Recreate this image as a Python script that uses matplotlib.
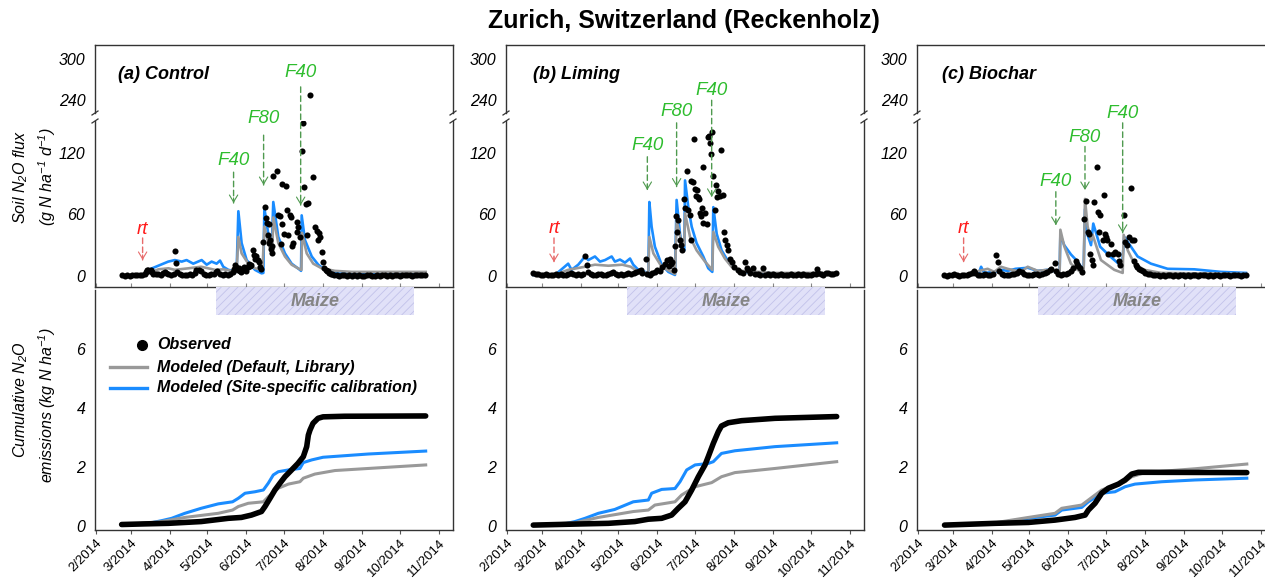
from datetime import datetime
import numpy as np
import matplotlib
matplotlib.use("Agg")
import matplotlib.pyplot as plt
import matplotlib.dates as mdates
from matplotlib.patches import Rectangle
from matplotlib.lines import Line2D

plt.rcParams['font.family'] = ['Liberation Sans', 'DejaVu Sans']
plt.rcParams['mathtext.fontset'] = 'custom'
plt.rcParams['mathtext.rm'] = 'Liberation Sans:italic'
plt.rcParams['mathtext.it'] = 'Liberation Sans:italic'
plt.rcParams['hatch.linewidth'] = 0.6

# ---- data: (day of year 2014, value) ----
# daily soil N2O flux, g N ha-1 d-1
obs_flux_a = [(53, 0.5), (55, 0.3), (57, 0.5), (59, 0.4), (61, 0.6), (63, 0.5), (65, 0.7), (67, 0.5), (69, 0.8),
              (71, 1.5), (72, 4), (73, 5.5), (74, 6), (75, 5), (76, 6), (77, 4), (78, 2), (80, 1.5), (82, 2), (84, 1),
              (86, 2.5), (87, 4), (88, 3), (90, 1.5), (92, 1), (94, 2), (95, 24), (96, 13), (97, 4), (99, 2), (101, 0.5),
              (103, 1), (105, 0.5), (107, 1.5), (109, 1), (111, 3), (112, 5.5), (114, 6), (116, 5), (118, 2), (120, 1),
              (122, 0.5), (124, 1.5), (126, 2), (128, 4), (129, 5), (131, 2), (133, 1), (135, 1.5), (137, 1), (139, 2),
              (141, 4), (142, 7), (143, 10.7), (144, 9), (145, 6), (146, 7.5), (147, 5), (148, 4), (149, 6), (150, 9),
              (151, 8), (152, 5), (153, 9), (154, 12), (155, 10), (156, 11), (157.5, 25), (158, 20), (159, 17),
              (160, 19), (161, 16), (162, 14), (163, 9), (164, 7), (165.5, 33), (166.8, 67), (167.6, 56), (168.6, 52),
              (169.4, 40), (169.9, 51), (170.2, 32), (170.7, 35), (171.3, 26), (172.1, 22), (172.5, 29), (173.4, 97),
              (176, 102), (177.4, 59), (178.7, 58), (179.2, 31), (180, 89.5), (180.5, 51), (182, 41), (183.5, 88),
              (184, 64), (185.4, 40), (186.7, 59), (187.2, 57), (188, 29), (189.3, 32), (192, 53), (192.5, 43),
              (193.3, 48), (194.6, 38), (196, 122), (197.3, 149), (197.8, 87), (199.4, 70), (200, 40), (201.3, 71),
              (202.6, 248), (205.3, 96.6), (206.6, 48), (207.9, 44), (209.3, 35), (210, 42), (210.5, 38), (212, 23.6),
              (213.2, 14), (214, 8), (215, 6), (216, 4.5), (217, 5), (218, 3), (219, 2), (220, 1.5), (222, 0.8),
              (224, 1.0), (226, 0.3), (228, 0.8), (230, 0.5), (232, 0.3), (234, 0.6), (236, 0.2), (238, 0.5),
              (240, 0.3), (242, 0.7), (244, 0.4), (246, 0.2), (248, 0.5), (250, 0.8), (252, 0.4), (254, 0.2),
              (256, 0.6), (258, 0.3), (260, 0.5), (262, 0.7), (264, 0.4), (266, 0.6), (268, 0.3), (270, 0.5),
              (272, 0.8), (274, 0.4), (276, 0.6), (278, 0.5), (280, 0.9), (282, 0.6), (284, 0.4), (286, 0.7),
              (288, 0.5), (290, 0.8), (292, 0.6), (294, 1.0)]

obs_flux_b = [(53, 2.6), (55, 2), (57, 1.5), (59, 1), (61, 1), (63, 1.5), (65, 1), (67, 0.5), (69, 1), (71, 1.5),
              (73, 1), (75, 2), (77, 1), (79, 0.5), (81, 2), (83, 3), (85, 1.5), (87, 1), (89, 2), (91, 1), (93, 2),
              (94.4, 19.5), (95.7, 11), (97, 4), (99, 2), (101, 1), (103, 0.5), (105, 1.5), (107, 2), (109, 1),
              (111, 0.5), (113, 1.5), (115, 3), (117, 4), (119, 2), (121, 1), (123, 1.5), (125, 0.5), (127, 1.5),
              (129, 3), (131, 2), (133, 3), (135, 4), (137, 5), (139, 6), (140, 3), (142.6, 17), (144, 2), (146, 1),
              (148, 2.5), (150, 4), (152, 6), (154, 5), (156, 9), (158, 12), (160, 15.5), (161, 10), (162, 17),
              (163, 12), (164, 14), (165, 6), (166, 29.5), (166.8, 58), (167.8, 43), (168.6, 54.5), (169.6, 35),
              (170.7, 30), (171.2, 25), (173.1, 74.6), (173.9, 66), (175.3, 102), (176.6, 64), (178, 59), (178.6, 35),
              (179, 92), (180.6, 91), (181.4, 133), (182, 85), (182.8, 78), (183.3, 84), (184.6, 77), (185.5, 75),
              (186, 61), (186.8, 58), (187.2, 66), (188, 52), (188.5, 106), (189.9, 61), (191.2, 51), (192.5, 135.5),
              (193, 136), (193.8, 129), (195, 119), (195.7, 140), (196.4, 97), (197.8, 64), (198.5, 89), (199.1, 77),
              (200.4, 83), (201.8, 78), (202.6, 122.6), (203.9, 79), (205.2, 43), (206, 35), (207.1, 30), (208.4, 25),
              (209.7, 17), (211, 14), (213.2, 9), (216.4, 6), (218, 4), (220, 3), (221.7, 14), (223, 7.5), (224.4, 6),
              (226, 3), (228.4, 7.5), (230, 2), (232, 1.5), (234, 1), (236.3, 8), (238, 1), (240, 2), (242, 1),
              (244, 1.5), (246, 0.5), (248, 1), (250, 2), (252, 1), (254, 0.5), (256, 1), (258, 2), (260, 1),
              (262, 0.5), (264, 1.5), (266, 1), (268, 2), (270, 1), (272, 0.5), (274, 1), (276, 2), (278, 1.5),
              (279, 6.5), (280, 3), (282, 2), (284, 1), (286, 2.5), (288, 3), (290, 2), (292, 1.5), (294, 2.5)]

obs_flux_c = [(53, 0.5), (55, 0.3), (57, 0.5), (59, 1), (61, 1.5), (63, 0.5), (65, 0.3), (67, 1), (69, 0.5),
              (71, 0.5), (73, 1.5), (75, 3), (77, 5), (78, 3), (80, 1), (82, 0.5), (84, 1), (86, 2), (88, 1), (90, 0.5),
              (92, 1.5), (94.5, 20), (95.7, 14), (97, 5), (99, 2), (101, 1), (103, 0.5), (105, 1), (107, 2), (109, 1.5),
              (111, 3), (113, 5), (115, 4), (117, 2), (119, 1), (121, 0.5), (123, 1), (125, 2), (127, 1.5), (129, 1),
              (131, 2), (133, 3), (135, 4), (137, 5.5), (138, 7), (141, 13), (142, 5), (144, 2), (146, 1), (148, 1.5),
              (150, 2), (152, 3), (154, 5), (156, 8), (157.7, 15), (159, 12), (160, 10), (161.3, 8), (163, 4),
              (164.7, 55), (166.2, 73), (167.3, 43), (168.1, 41), (169.4, 21), (170.8, 16), (171.8, 11), (172.6, 72),
              (174.5, 106), (175.3, 62), (176.6, 43), (177.4, 59), (179.3, 35), (180, 79), (181.4, 41), (181.9, 38),
              (182.7, 35), (183.2, 21), (185.9, 31), (187.2, 21), (189, 23), (191.1, 21), (192.5, 15), (193.3, 11),
              (196, 59), (197, 33), (198.4, 30), (200.5, 38), (201.8, 86), (202.3, 35), (203.9, 35), (204.5, 15),
              (205.8, 11), (207, 9), (208.4, 7), (210, 5.5), (211, 5), (213, 3), (215, 2), (217, 1.5), (219, 1),
              (221, 0.5), (223, 0.8), (225, 0.4), (227, 0.6), (229, 0.3), (231, 0.7), (233, 0.5), (235, 0.3),
              (237, 0.6), (239, 0.4), (241, 0.8), (243, 0.5), (245, 0.3), (247, 0.6), (249, 0.4), (251, 0.7),
              (253, 0.5), (255, 0.3), (257, 0.6), (259, 0.5), (261, 0.8), (263, 0.4), (265, 0.6), (267, 0.3),
              (269, 0.5), (271, 0.7), (273, 0.4), (275, 0.6), (277, 0.5), (279, 0.8), (281, 0.4), (283, 0.6),
              (285, 0.5), (287, 0.7), (289, 0.4), (291, 0.6), (293, 0.5)]

# modeled flux, default (library) parameters
default_flux_a = [(53, 0.5), (70, 0.5), (74, 2.6), (82, 6.5), (90, 7.5), (95, 6), (106, 7.5), (116, 9), (127, 6),
                  (133.6, 6.5), (140, 5), (144.2, 4), (145.6, 38), (148.2, 22), (153.5, 12), (158.8, 7.5), (164.8, 6),
                  (166.3, 48), (170.2, 28.5), (172.6, 25), (173.4, 57), (177.4, 32), (182.7, 19), (188, 11),
                  (194.6, 6.5), (195.8, 6), (196.3, 42), (200, 22), (205.2, 12), (211.9, 7.5), (222.5, 5),
                  (235.8, 4), (294.7, 4)]
default_flux_b = [(53.2, 1), (70.5, 1), (81, 6), (94.4, 9), (102.3, 11), (113, 10), (124, 11), (130.8, 9),
                  (136.8, 4), (144.8, 3), (145.6, 38), (148.8, 22), (155.4, 9), (166, 2), (167.3, 54), (170.7, 35),
                  (173.4, 30), (174, 61), (178, 38), (183.2, 25), (189.9, 14), (195.7, 6), (196.5, 43), (200.4, 28.5),
                  (205.7, 17), (211, 9), (219, 5), (245.6, 3), (294.7, 3)]
default_flux_c = [(53, 0.5), (69.1, 0.5), (81.1, 5), (87.7, 7), (93, 4), (98.3, 9), (103.6, 7), (114.2, 4),
                  (119.6, 9), (127.5, 5), (135.5, 6), (143.4, 4), (145, 3), (145.6, 45), (148.7, 29), (154, 12),
                  (159.4, 6), (164.1, 2), (165.2, 75), (167.3, 48), (170, 35), (171.3, 40), (177.9, 15.5),
                  (188.5, 6), (195.2, 3), (196, 40), (199.2, 25), (204.5, 12), (212.4, 6), (225.7, 3), (293.3, 2)]

# modeled flux, site-specific calibration
calib_flux_a = [(53, 0.5), (70, 0.5), (74, 6), (81.9, 10), (89.8, 14), (95.1, 15.5), (100.5, 14), (104.4, 15.5),
                (109.7, 12), (116.4, 15.5), (120.4, 11), (124.3, 14), (128.3, 12), (131, 15), (133.6, 9),
                (137.6, 6), (141.6, 5), (144.2, 4), (145.6, 63), (148.2, 32), (152.2, 15.5), (158.8, 6),
                (164.1, 2.6), (165.5, 3), (166.3, 66), (169.4, 41), (172, 22), (173.4, 72), (177.4, 38),
                (182.7, 22), (188, 12), (194.6, 6), (195.5, 5), (196, 59), (198.6, 35), (204, 19), (209.2, 11),
                (214.5, 6), (222.5, 3), (235.8, 2.6), (294.7, 2)]
calib_flux_b = [(53.2, 1), (70.5, 1), (81, 12), (83.7, 6), (89, 11), (94.4, 19), (97, 15.5), (102.3, 19),
                (106.3, 14), (110.3, 15.5), (115.6, 19), (118.2, 14), (122.2, 16), (126.2, 13), (130.2, 17),
                (132.8, 11), (136.8, 6), (142.1, 4), (144.8, 3), (145.6, 72), (147.4, 48), (150, 28.5), (155.4, 11),
                (160.7, 4), (166, 1), (167.3, 74), (170, 41), (171.8, 28.5), (173.4, 25), (174, 93), (176.6, 67),
                (179.3, 48), (183.2, 32), (188.5, 19), (192.5, 7.5), (195.7, 4), (196.5, 67), (199.2, 41),
                (203.1, 25), (208.4, 14), (213.7, 7.5), (219, 4), (245.6, 2.5), (294.7, 2)]
calib_flux_c = [(53, 0.5), (69.1, 0.5), (81.1, 4), (82.5, 9), (85, 3), (93, 4), (98.3, 6), (103.6, 5), (110, 7),
                (119.6, 8), (127.5, 5), (135.5, 6), (143.4, 4), (145, 3), (145.6, 40), (148.7, 30), (154, 21),
                (159.4, 14), (164.1, 5), (165.2, 65), (167.3, 40), (170, 30), (171.8, 51), (177.3, 28.5),
                (185.3, 19), (191.9, 12), (194.6, 9), (196.5, 38), (201.8, 28.5), (207.1, 19), (217.7, 12),
                (231, 7), (252.2, 6.5), (273.4, 4), (293.3, 3)]

# cumulative N2O emissions, kg N ha-1
cum_obs_a = [(52.7, 0.05), (70, 0.07), (90, 0.09), (116, 0.15), (137.6, 0.26), (148, 0.29), (156, 0.37),
             (164, 0.49), (166.8, 0.66), (170.8, 0.94), (174.7, 1.22), (178.7, 1.45), (182.7, 1.67), (188, 1.9),
             (193, 2.12), (197.3, 2.35), (200, 2.69), (201.3, 3.08), (202.6, 3.25), (205, 3.48), (209, 3.65),
             (213, 3.70), (230, 3.72), (294.7, 3.73)]
cum_default_a = [(52.7, 0.03), (84.5, 0.15), (103, 0.29), (129.6, 0.43), (141, 0.54), (145.6, 0.66), (153.5, 0.77),
                 (165.5, 0.82), (169.4, 0.99), (177.4, 1.28), (185.4, 1.42), (194.6, 1.5), (197.3, 1.62),
                 (206.5, 1.76), (222.5, 1.88), (249, 1.95), (294.7, 2.07)]
cum_calib_a = [(52.7, 0.03), (74, 0.09), (84.5, 0.18), (92.5, 0.26), (103, 0.43), (116, 0.6), (129.6, 0.75),
               (141, 0.82), (145.6, 0.94), (150.9, 1.11), (158.8, 1.16), (165.5, 1.22), (169.4, 1.45), (173.4, 1.73),
               (177.4, 1.84), (185.4, 1.9), (194.6, 1.95), (197.3, 2.15), (204, 2.24), (213, 2.33), (249, 2.44),
               (294.7, 2.54)]

cum_obs_b = [(53.2, 0.03), (91.7, 0.07), (113, 0.09), (134, 0.15), (144.8, 0.23), (155.4, 0.26), (163.3, 0.37),
             (168.6, 0.6), (174, 0.82), (179.3, 1.22), (184.6, 1.67), (189.9, 2.07), (192.5, 2.35), (196.5, 2.8),
             (200.5, 3.2), (203, 3.39), (208.4, 3.5), (219, 3.57), (245.6, 3.65), (294.7, 3.71)]
cum_default_b = [(53.2, 0.03), (86.4, 0.11), (105, 0.29), (132.8, 0.49), (144.8, 0.54), (150, 0.71), (166, 0.82),
                 (171.3, 1.05), (182, 1.33), (195.2, 1.47), (203, 1.67), (213.7, 1.81), (245.6, 1.95),
                 (294.7, 2.18)]
cum_calib_b = [(53.2, 0.03), (75.8, 0.05), (86.4, 0.15), (94.4, 0.26), (105, 0.43), (118, 0.56), (132.8, 0.82),
               (144.8, 0.88), (147.4, 1.11), (155.4, 1.24), (166, 1.27), (170, 1.5), (175.3, 1.9), (182, 2.07),
               (192.5, 2.12), (196.5, 2.18), (203, 2.46), (213.7, 2.55), (245.6, 2.69), (294.7, 2.82)]

cum_obs_c = [(53.4, 0.03), (93.6, 0.09), (120.2, 0.12), (141.4, 0.2), (157.3, 0.29), (165.3, 0.37), (167.9, 0.54),
             (173.2, 0.77), (178.5, 1.11), (183.8, 1.28), (191.8, 1.42), (197.1, 1.56), (202.4, 1.76),
             (207.7, 1.82), (215.7, 1.82), (294, 1.81)]
cum_default_c = [(53.4, 0.03), (93.6, 0.11), (120.2, 0.29), (141.4, 0.43), (146.7, 0.6), (162.6, 0.71),
                 (167.9, 0.88), (178.5, 1.22), (189.1, 1.39), (197.1, 1.5), (202.4, 1.67), (213, 1.81),
                 (252.8, 1.94), (294, 2.1)]
cum_calib_c = [(53.4, 0.03), (93.6, 0.09), (120.2, 0.26), (141.4, 0.37), (146.7, 0.54), (162.6, 0.63),
               (167.9, 0.82), (178.5, 1.11), (189.1, 1.16), (197.1, 1.33), (205, 1.42), (226.2, 1.5), (252.8, 1.56),
               (294, 1.62)]

# maize growing season (day of year)
maize_start, maize_end = 127.5, 285.5

month_labels = ['2/2014', '3/2014', '4/2014', '5/2014', '6/2014', '7/2014', '8/2014', '9/2014', '10/2014', '11/2014']
month_ticks = [mdates.date2num(datetime(2014, m, 1)) for m in range(2, 12)]

BLUE = '#1a8cff'
GRAY = '#999999'
GREEN = '#2ebd2e'
GREEN_ARROW = '#4f9a4f'
RED = '#ff1a1a'
SPINE = '#333333'

day0 = mdates.date2num(datetime(2014, 1, 1)) - 1


def xs(series):
    return day0 + np.array([p[0] for p in series], float)


def ys(series):
    return np.array([p[1] for p in series], float)


W, H = 1265, 581
fig = plt.figure(figsize=(W / 100, H / 100), dpi=100)


def box(left, top, width, height):
    return [left / W, 1 - (top + height) / H, width / W, height / H]


panels = [
    dict(left=95, title='(a) Control', tx=0.064, obs=obs_flux_a, default=default_flux_a, calib=calib_flux_a,
         cum=(cum_obs_a, cum_default_a, cum_calib_a),
         marks=[('rt', 69.4, 15.6, 37, 45), ('F40', 141.8, 71, 101, 112),
                ('F80', 165.7, 88.5, 137, 153), ('F40', 195.2, 69, 184, 198)]),
    dict(left=506, title='(b) Liming', tx=0.075, obs=obs_flux_b, default=default_flux_b, calib=calib_flux_b,
         cum=(cum_obs_b, cum_default_b, cum_calib_b),
         marks=[('rt', 69.7, 13.6, 37, 46), ('F40', 144, 83.7, 116, 127),
                ('F80', 167.3, 87, 149, 160), ('F40', 195.2, 77, 171, 180)]),
    dict(left=917, title='(c) Biochar', tx=0.07, obs=obs_flux_c, default=default_flux_c, calib=calib_flux_c,
         cum=(cum_obs_c, cum_default_c, cum_calib_c),
         marks=[('rt', 68.6, 13.6, 37, 46), ('F40', 142, 49.6, 82, 92),
                ('F80', 165.2, 83.7, 126, 135), ('F40', 195.2, 42, 149, 158)]),
]

PW = 358
xlim = (day0 + 31.5, day0 + 31.5 + PW / 1.2564)


def style_spines(ax, hide):
    for side, sp in ax.spines.items():
        sp.set_color(SPINE)
        sp.set_linewidth(1.0)
        if side in hide:
            sp.set_visible(False)


def mark(ax, label, doy, tip, top, text_y):
    x = day0 + doy
    if label == 'rt':
        tcol, acol = RED, '#e86a6a'
    else:
        tcol, acol = GREEN, GREEN_ARROW
    ax.annotate('', xy=(x, tip), xytext=(x, top), annotation_clip=False,
                arrowprops=dict(arrowstyle='-', linestyle=(0, (4, 2.5)), color=acol, lw=1.0,
                                shrinkA=0, shrinkB=0))
    ax.annotate('', xy=(x, tip), xytext=(x, tip + 5), annotation_clip=False,
                arrowprops=dict(arrowstyle='->,head_length=0.5,head_width=0.3', color=acol, lw=0.8,
                                shrinkA=0, shrinkB=0))
    ax.text(x, text_y, label, color=tcol, fontstyle='italic', fontsize=13.5,
            ha='center', va='center', clip_on=False)


for p in panels:
    L = p['left']
    ax_top = fig.add_axes(box(L, 45, PW, 68))
    ax_mid = fig.add_axes(box(L, 121, PW, 166))
    ax_cum = fig.add_axes(box(L, 290, PW, 240))
    for ax in (ax_top, ax_mid, ax_cum):
        ax.set_facecolor('none')
        ax.set_xlim(xlim)

    # flux panels (broken y axis)
    for ax in (ax_top, ax_mid):
        ax.plot(xs(p['calib']), ys(p['calib']), color=BLUE, lw=1.9, zorder=2)
        ax.plot(xs(p['default']), ys(p['default']), color=GRAY, lw=1.9, zorder=2.1)
        ax.plot(xs(p['obs']), ys(p['obs']), 'o', color='black', ms=4.4, mew=0, zorder=3)

    ax_top.set_ylim(221, 320.5)
    ax_top.set_yticks([240, 300], ['240', '300'], fontstyle='italic', fontsize=11.5)
    ax_top.set_xticks([])
    style_spines(ax_top, ['bottom'])
    ax_top.tick_params(axis='y', length=0, pad=7)
    ax_top.text(p['tx'], 0.57, p['title'], transform=ax_top.transAxes, fontweight='bold',
                fontstyle='italic', fontsize=13, va='center')

    ax_mid.set_ylim(-10.7, 150.8)
    ax_mid.set_yticks([0, 60, 120], ['0', '60', '120'], fontstyle='italic', fontsize=11.5)
    ax_mid.set_xticks(month_ticks)
    ax_mid.set_xticklabels([])
    ax_mid.tick_params(axis='y', length=0, pad=7)
    ax_mid.tick_params(axis='x', direction='in', length=3, color='#888888')
    style_spines(ax_mid, ['top'])
    for lab, doy, tip, top, ty in p['marks']:
        mark(ax_mid, lab, doy, tip, top, ty)

    # break marks on both vertical spines
    for xp in (L, L + PW):
        for yp in (113, 121):
            fig.add_artist(Line2D([(xp - 3) / W, (xp + 3) / W], [1 - (yp + 2) / H, 1 - (yp - 2) / H],
                                  transform=fig.transFigure, color=SPINE, lw=0.9))

    # cumulative panel
    cobs, cdef, ccal = p['cum']
    ax_cum.plot(xs(ccal), ys(ccal), color=BLUE, lw=2.2, zorder=2)
    ax_cum.plot(xs(cdef), ys(cdef), color=GRAY, lw=2.2, zorder=2.1)
    ax_cum.plot(xs(cobs), ys(cobs), color='black', lw=4.0, solid_capstyle='round', zorder=3)
    ax_cum.set_ylim(-0.136, 8.0)
    ax_cum.set_yticks([0, 2, 4, 6], ['0', '2', '4', '6'], fontstyle='italic', fontsize=11.5)
    ax_cum.tick_params(axis='y', length=0, pad=7)
    ax_cum.set_xticks(month_ticks)
    ax_cum.set_xticklabels(month_labels, rotation=45, ha='right', va='top', rotation_mode='anchor', fontsize=9.5)
    ax_cum.tick_params(axis='x', direction='out', length=3, color='#555555', pad=2)
    style_spines(ax_cum, ['top'])

    ax_cum.add_patch(Rectangle((day0 + maize_start, 7.15), maize_end - maize_start, 0.95,
                               facecolor='#e1e1f8', edgecolor='#c2c2ea', hatch='////', lw=0,
                               clip_on=False, zorder=1))
    ax_cum.text(day0 + (maize_start + maize_end) / 2, 7.6, 'Maize', color='#858585', fontweight='bold',
                fontstyle='italic', fontsize=13, ha='center', va='center', clip_on=False)

    if L == 95:
        lg = dict(transform=ax_cum.transAxes, clip_on=False)
        ax_cum.plot([0.131], [0.771], 'o', color='black', ms=7, **lg)
        ax_cum.plot([0.042, 0.145], [0.679, 0.679], color=GRAY, lw=2.4, **lg)
        ax_cum.plot([0.042, 0.145], [0.592, 0.592], color=BLUE, lw=2.4, **lg)
        for yy, txt in ((0.771, 'Observed'), (0.679, 'Modeled (Default, Library)'),
                        (0.592, 'Modeled (Site-specific calibration)')):
            ax_cum.text(0.173, yy, txt, transform=ax_cum.transAxes, fontweight='bold', fontstyle='italic',
                        fontsize=11.5, va='center')

# axis titles
fig.text(21 / W, 1 - 177 / H, 'Soil N$_2$O flux', rotation=90, ha='center', va='center',
         fontstyle='italic', fontsize=11.5)
fig.text(47 / W, 1 - 177 / H, '(g N ha$^{-1}$ d$^{-1}$)', rotation=90, ha='center', va='center',
         fontstyle='italic', fontsize=11.5)
fig.text(21 / W, 1 - 400 / H, 'Cumulative N$_2$O', rotation=90, ha='center', va='center',
         fontstyle='italic', fontsize=11.5)
fig.text(47 / W, 1 - 405 / H, 'emissions (kg N ha$^{-1}$)', rotation=90, ha='center', va='center',
         fontstyle='italic', fontsize=11.5)

fig.text(684 / W, 1 - 21 / H, 'Zurich, Switzerland (Reckenholz)', ha='center', va='center',
         fontsize=18, fontweight='bold')

fig.savefig('out.png', dpi=100)
